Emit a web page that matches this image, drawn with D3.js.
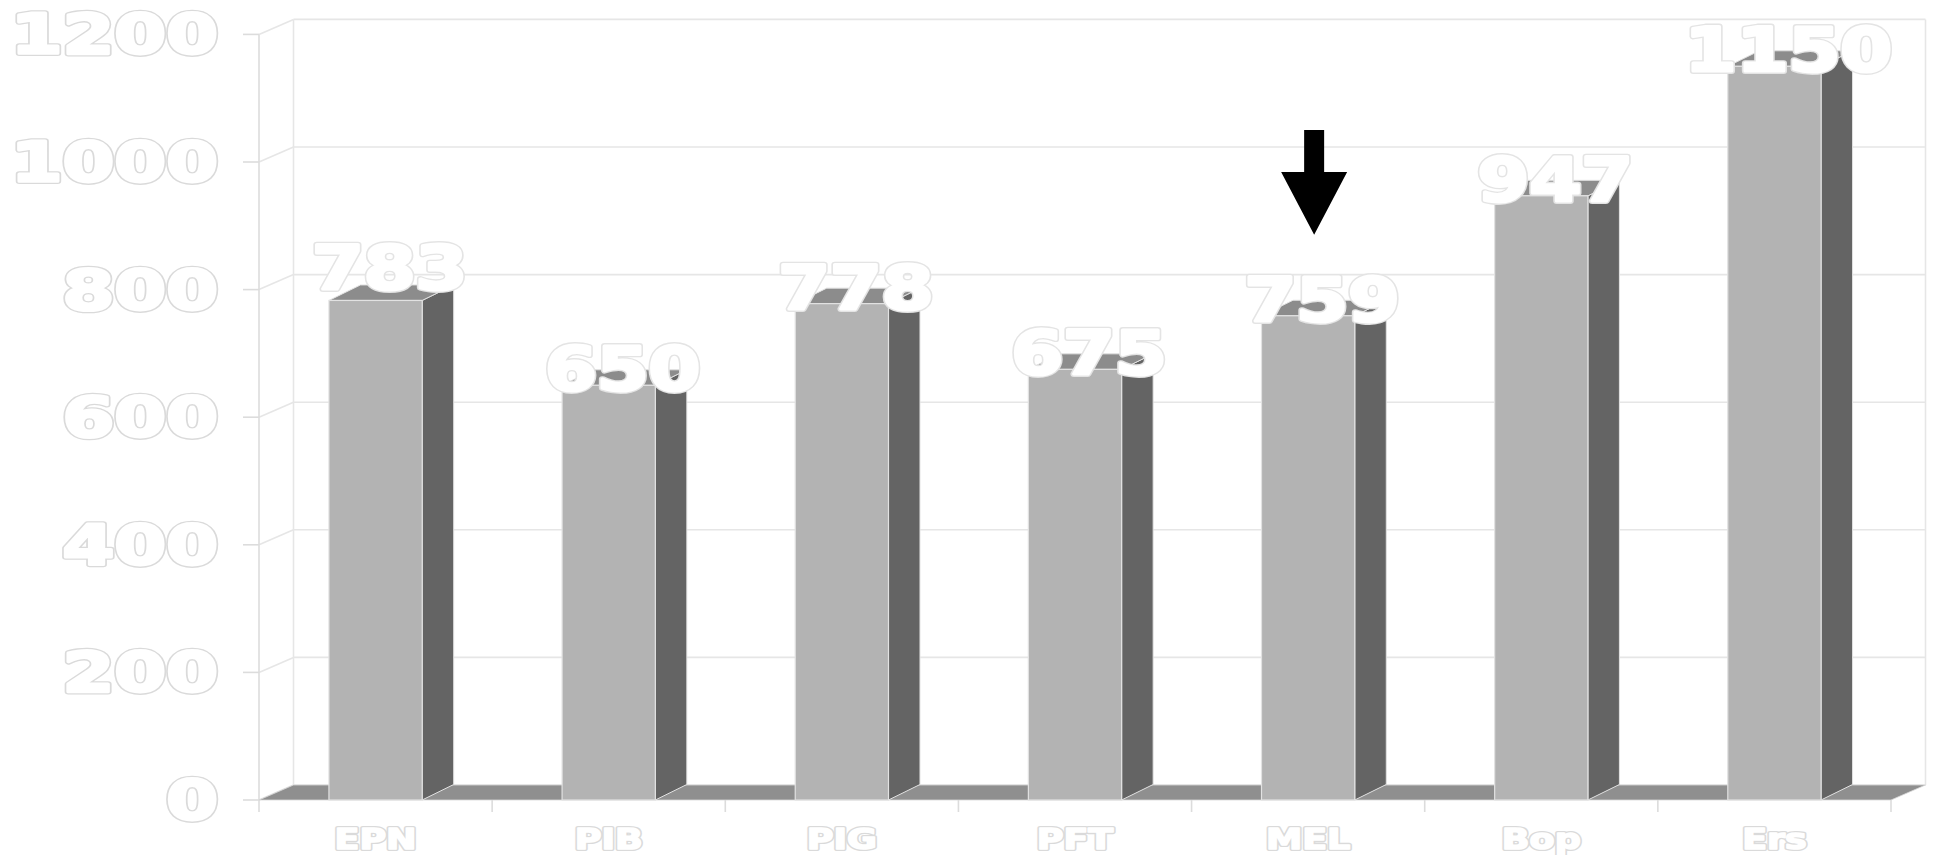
<!DOCTYPE html>
<html>
<head>
<meta charset="utf-8">
<script src="https://cdn.jsdelivr.net/npm/d3@7"></script>
<style>
  html, body { margin: 0; padding: 0; background: #ffffff; }
  svg { display: block; }
  text { font-family: "DejaVu Sans", "Liberation Sans", sans-serif; font-weight: bold; }
</style>
</head>
<body>
<svg id="chart" width="1933" height="855"></svg>
<script>
// Categories and their totals
const categories = ["EPN", "PIB", "PIG", "PFT", "MEL", "Bop", "Ers"];
const values = [783, 650, 778, 675, 759, 947, 1150];
const yTicks = [0, 200, 400, 600, 800, 1000, 1200];
// Arrow pointing at one column: category plus value range of its tail and tip
const arrowTarget = "MEL";
const arrowFrom = 1050;
const arrowTo = 886;

(function () {
const svg = d3.select("#chart");

// 3D projection offsets (back wall and column depth)
const wall = { dx: 34.5, dy: -15 };
const depth = { dx: 31.5, dy: -15.5 };

const y = d3.scaleLinear().domain([0, 1200]).range([800, 34.4]);
const x = d3.scaleBand().domain(categories).range([259, 1891]).padding(0);
const barW = x.bandwidth() * 0.4;
const x0 = x.range()[0], x1 = x.range()[1];

const gridColor = "#e6e6e6";
const frontFill = "#b3b3b3", sideFill = "#646464", topFill = "#8c8c8c", floorFill = "#8f8f8f";
const edge = "#e2e2e2";

const g = svg.append("g");

// Back wall gridlines
g.append("g").selectAll("line").data(yTicks).join("line")
  .attr("x1", x0 + wall.dx).attr("x2", x1 + wall.dx)
  .attr("y1", d => y(d) + wall.dy).attr("y2", d => y(d) + wall.dy)
  .attr("stroke", gridColor).attr("stroke-width", 1.6);

// Side wall gridlines
g.append("g").selectAll("line").data(yTicks).join("line")
  .attr("x1", x0).attr("x2", x0 + wall.dx)
  .attr("y1", d => y(d)).attr("y2", d => y(d) + wall.dy)
  .attr("stroke", gridColor).attr("stroke-width", 1.6);

// Wall edges
const yTop = y(1200), yBase = y(0);
g.append("line").attr("x1", x0 + wall.dx).attr("x2", x0 + wall.dx)
  .attr("y1", yTop + wall.dy).attr("y2", yBase + wall.dy)
  .attr("stroke", gridColor).attr("stroke-width", 1.6);
g.append("line").attr("x1", x1 + wall.dx).attr("x2", x1 + wall.dx)
  .attr("y1", yTop + wall.dy).attr("y2", yBase + wall.dy)
  .attr("stroke", gridColor).attr("stroke-width", 1.6);

// Value axis line and ticks
g.append("line").attr("x1", x0).attr("x2", x0)
  .attr("y1", yTop).attr("y2", yBase + 12)
  .attr("stroke", "#dcdcdc").attr("stroke-width", 1.6);
g.append("g").selectAll("line").data(yTicks).join("line")
  .attr("x1", x0 - 16).attr("x2", x0)
  .attr("y1", d => y(d)).attr("y2", d => y(d))
  .attr("stroke", "#dcdcdc").attr("stroke-width", 1.6);

// Floor
g.append("path")
  .attr("d", `M${x0},${yBase}L${x1},${yBase}L${x1 + wall.dx},${yBase + wall.dy}L${x0 + wall.dx},${yBase + wall.dy}Z`)
  .attr("fill", floorFill).attr("stroke", "#d8d8d8").attr("stroke-width", 0.8);

// Category axis ticks at band boundaries
const bounds = categories.map(c => x(c)).concat([x1]);
g.append("g").selectAll("line").data(bounds.slice(1)).join("line")
  .attr("x1", d => d).attr("x2", d => d)
  .attr("y1", yBase).attr("y2", yBase + 12)
  .attr("stroke", "#dcdcdc").attr("stroke-width", 1.6);

// Columns
const data = categories.map((c, i) => ({ c, v: values[i] }));
const bars = g.append("g").selectAll("g").data(data).join("g");
bars.each(function (d) {
  const gb = d3.select(this);
  const bx = x(d.c) + (x.bandwidth() - barW) / 2;
  const by = y(d.v);
  // side face
  gb.append("path")
    .attr("d", `M${bx + barW},${by}L${bx + barW + depth.dx},${by + depth.dy}L${bx + barW + depth.dx},${yBase + depth.dy}L${bx + barW},${yBase}Z`)
    .attr("fill", sideFill).attr("stroke", edge).attr("stroke-width", 1);
  // top face
  gb.append("path")
    .attr("d", `M${bx},${by}L${bx + depth.dx},${by + depth.dy}L${bx + barW + depth.dx},${by + depth.dy}L${bx + barW},${by}Z`)
    .attr("fill", topFill).attr("stroke", edge).attr("stroke-width", 1);
  // front face
  gb.append("rect")
    .attr("x", bx).attr("y", by).attr("width", barW).attr("height", yBase - by)
    .attr("fill", frontFill).attr("stroke", edge).attr("stroke-width", 1.2);
});

// Heavy white lettering with a thin grey outline, stretched horizontally.
// Drawn in two passes: a grey halo, then a fattened white glyph on top.
function outlinedText(parent, items, opts) {
  const layer = parent.append("g");
  const passes = [
    { stroke: opts.outline, width: opts.weight + 2.6 },
    { stroke: "#ffffff", width: opts.weight }
  ];
  passes.forEach(p => {
    const t = layer.append("g").selectAll("text").data(items).join("text")
      .attr("x", opts.x).attr("y", opts.y)
      .attr("text-anchor", opts.anchor)
      .attr("font-size", opts.size)
      .attr("fill", "#ffffff")
      .attr("stroke", p.stroke).attr("stroke-width", p.width)
      .attr("stroke-linejoin", "round")
      .text(opts.text);
    t.each(function () {
      const len = this.getComputedTextLength();
      d3.select(this).attr("textLength", len * opts.stretch).attr("lengthAdjust", "spacingAndGlyphs");
    });
  });
}

// Value axis labels
const yfs = 56;
outlinedText(g, yTicks, {
  x: 218, y: d => y(d) - 1.5 + yfs * 0.3645, anchor: "end", size: yfs,
  outline: "#dadada", weight: 3, stretch: 1.33, text: d => d
});

// Category labels
const cfs = 28;
outlinedText(g, categories, {
  x: d => x(d) + x.bandwidth() / 2, y: 848.5, anchor: "middle", size: cfs,
  outline: "#dadada", weight: 1.6, stretch: 1.3, text: d => d
});

// Data labels above the columns
const dfs = 60;
const lift = d => (d.c === "EPN" ? 33 : 17);
outlinedText(g, data, {
  x: d => x(d.c) + x.bandwidth() / 2 + 14,
  y: d => y(d.v) - lift(d) + dfs * 0.3645, anchor: "middle", size: dfs,
  outline: "#e4e4e4", weight: 3.2, stretch: 1.24, text: d => d.v
});

// Arrow marker
const ax = x(arrowTarget) + x.bandwidth() / 2 + 6;
const yTail = y(arrowFrom), yTip = y(arrowTo);
const headBase = yTip - (yTip - yTail) * 0.6;
const shaftHalf = 10, headHalf = 33;
g.append("path")
  .attr("d", `M${ax - shaftHalf},${yTail}L${ax + shaftHalf},${yTail}L${ax + shaftHalf},${headBase}L${ax + headHalf},${headBase}L${ax},${yTip}L${ax - headHalf},${headBase}L${ax - shaftHalf},${headBase}Z`)
  .attr("fill", "#000000");
})();
</script>
</body>
</html>
